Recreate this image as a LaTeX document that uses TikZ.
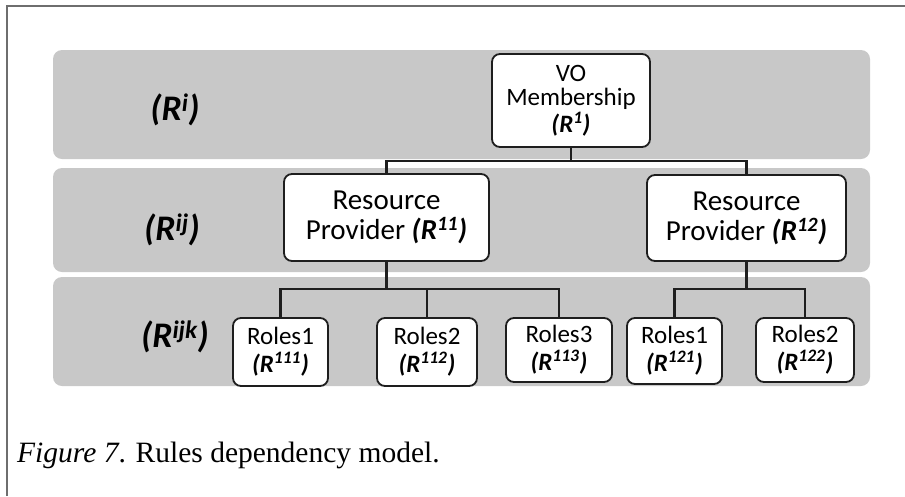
\documentclass[tikz,border=0pt]{standalone}
\usepackage{fontspec}
\setmainfont{Carlito}
\newfontfamily\capfont{Liberation Serif}
\definecolor{bandgray}{HTML}{C8C8C8}
\definecolor{framegray}{HTML}{6E6E6E}
\definecolor{inkdark}{HTML}{1E1E1E}
\tikzset{
  band/.style={fill=bandgray, draw=none, rounded corners=9pt},
  rulebox/.style={draw=inkdark, line width=1.8pt, fill=white, rounded corners=8pt,
    align=center, inner sep=0pt},
  bigtext/.style={font=\fontsize{29}{30}\selectfont},
  smalltext/.style={font=\fontsize{25}{24}\selectfont},
  levellabel/.style={font=\fontsize{36}{36}\selectfont\bfseries\itshape},
  conn/.style={draw=inkdark, line width=2.2pt},
}
\newcommand{\rsup}[1]{\textbf{\textit{(R\textsuperscript{#1})}}}
\begin{document}
\begin{tikzpicture}[x=1pt, y=-1pt]
  \useasboundingbox (0,0) rectangle (905,496);
  % outer frame (open to the right and bottom)
  \draw[framegray, line width=2pt] (7,496) -- (7,6) -- (905,6);

  % level bands
  \fill[band] (53,50) rectangle (870,159);
  \fill[band] (53,168) rectangle (870,272);
  \fill[band] (53,277) rectangle (870,386);

  % level labels
  \node[levellabel] (li)   at (175,110) {(R\textsuperscript{i})};
  \node[levellabel] (lij)  at (172,230) {(R\textsuperscript{ij})};
  \node[levellabel] (lijk) at (175,337) {(R\textsuperscript{ijk})};

  % rule nodes
  \node[rulebox, smalltext, minimum width=158pt, minimum height=93pt] (vo) at (571,100.5)
    {VO\\Membership\\[2pt]\rsup{1}};
  \node[rulebox, bigtext, minimum width=205pt, minimum height=87pt] (rp11) at (386.5,217.5)
    {Resource\\Provider \rsup{11}};
  \node[rulebox, bigtext, minimum width=199pt, minimum height=86pt] (rp12) at (746.5,218)
    {Resource\\Provider \rsup{12}};
  \node[rulebox, smalltext, minimum width=95pt, minimum height=68pt] (r111) at (280.5,352)
    {Roles1\\[4pt]\rsup{111}};
  \node[rulebox, smalltext, minimum width=100pt, minimum height=68pt] (r112) at (427,352)
    {Roles2\\[4pt]\rsup{112}};
  \node[rulebox, smalltext, minimum width=106pt, minimum height=64pt] (r113) at (559,350)
    {Roles3\\[4pt]\rsup{113}};
  \node[rulebox, smalltext, minimum width=95pt, minimum height=66pt] (r121) at (674.5,351)
    {Roles1\\[4pt]\rsup{121}};
  \node[rulebox, smalltext, minimum width=98pt, minimum height=64pt] (r122) at (805,350)
    {Roles2\\[4pt]\rsup{122}};

  % junctions of the tree connectors
  \coordinate (j1) at (571,161);
  \coordinate (j2) at (386.5,289);
  \coordinate (j3) at (746.5,289);

  \draw[conn] (vo.south) -- (j1);
  \draw[conn] (rp11.north) |- (j1) -| (rp12.north);
  \draw[conn] (rp11.south) -- (j2);
  \draw[conn] (r111.north) |- (j2) -| (r113.north);
  \draw[conn] (r112.north) -- (r112.north |- j2);
  \draw[conn] (rp12.south) -- (j3);
  \draw[conn] (r121.north) |- (j3) -| (r122.north);

  % caption
  \node[anchor=base west, inner sep=0pt, font=\capfont\fontsize{29.5}{31}\selectfont] (cap)
    at (17,462) {\textit{Figure 7}. Rules dependency model.};
\end{tikzpicture}
\end{document}
